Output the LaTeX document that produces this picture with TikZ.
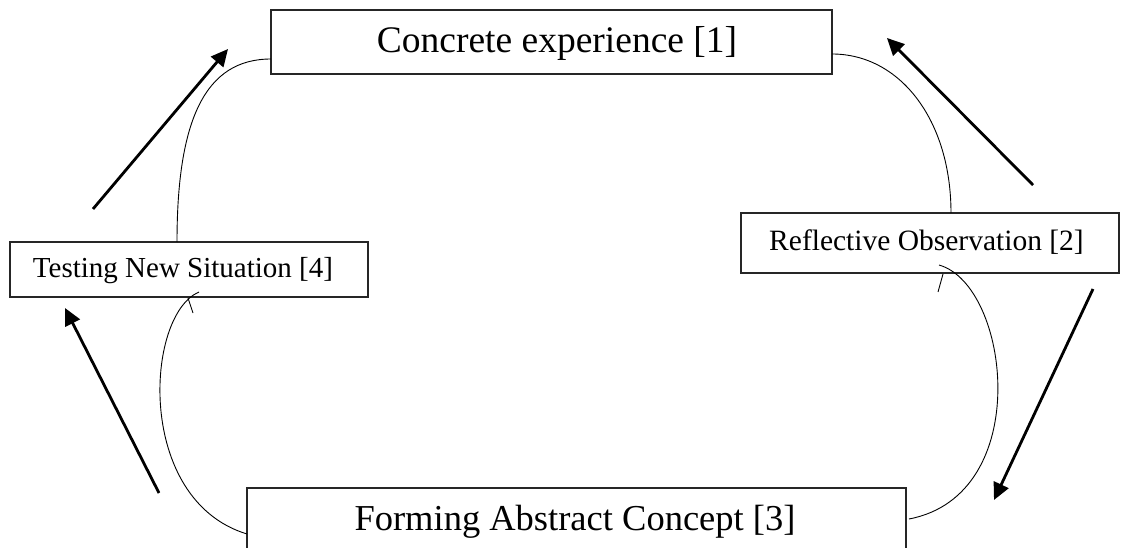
\documentclass[tikz,border=0pt]{standalone}
\usepackage{fontspec}
\setmainfont{Liberation Serif}
\usetikzlibrary{arrows.meta,calc}
\begin{document}
\begin{tikzpicture}[x=1pt,y=-1pt,
  box/.style={draw=black!85,line width=1.2pt,rectangle,inner sep=0pt,outer sep=0pt},
  lbl/.style={anchor=base,inner sep=0pt},
  arc/.style={line width=0.9pt},
  flow/.style={line width=2.8pt,-{Triangle[length=17pt,width=16pt]}}]
\useasboundingbox (0,0) rectangle (1125,548);
% boxes
\node[box,minimum width=561pt,minimum height=64pt] (c1) at (551.5,42) {};
\node[box,minimum width=378pt,minimum height=60pt] (c2) at (930,243) {};
\node[box,minimum width=358pt,minimum height=55pt] (c4) at (189,269.5) {};
\node[box,minimum width=659pt,minimum height=100pt] (c3) at (576.5,538) {};
% texts
\node[lbl,font=\fontsize{37.5}{40}\selectfont] (t1) at (557,53) {Concrete experience [1]};
\node[lbl,font=\fontsize{29.5}{32}\selectfont] (t2) at (926.5,250.5) {Reflective Observation [2]};
\node[lbl,font=\fontsize{29}{32}\selectfont] (t4) at (183,278) {Testing New Situation [4]};
\node[lbl,font=\fontsize{36.5}{40}\selectfont] (t3) at (575,530) {Forming Abstract Concept [3]};
% arc end points
\coordinate (a1s) at ($(c1.south west)+(0,-15)$);
\coordinate (a1e) at ($(c4.north west)+(167,0)$);
\coordinate (a2s) at ($(c1.north east)+(0,44)$);
\coordinate (a2e) at ($(c2.north west)+(210,0)$);
\coordinate (a3s) at ($(c2.south west)+(198,-8)$);
\coordinate (a3e) at ($(c3.north east)+(3,31)$);
\coordinate (a4s) at ($(c4.south west)+(189,-5)$);
\coordinate (a4e) at ($(c3.north west)+(0,46)$);
% arcs
\draw[arc] (a1s) .. controls (205,59) and (177,120) .. (a1e);
\draw[arc] (a2s) .. controls (900,54) and (951,120) .. (a2e);
\draw[arc] (a3s) .. controls (1010,285) and (1035,495) .. (a3e);
\draw[arc] (a4s) .. controls (145,315) and (135,500) .. (a4e);
% ticks
\coordinate (k2a) at ($(c2.south west)+(202,1)$);
\coordinate (k2b) at ($(c2.south west)+(197,19)$);
\coordinate (k4a) at ($(c4.south west)+(178,1)$);
\coordinate (k4b) at ($(c4.south west)+(183,16)$);
\draw[arc] (k2a) -- (k2b);
\draw[arc] (k4a) -- (k4b);
% arrows
\coordinate (f1s) at (93,209);   \coordinate (f1e) at (228,49);
\coordinate (f2s) at (1033,185); \coordinate (f2e) at (887,38);
\coordinate (f3s) at (1093,289); \coordinate (f3e) at (994,500);
\coordinate (f4s) at (159,493);  \coordinate (f4e) at (65,308);
\draw[flow] (f1s) -- (f1e);
\draw[flow] (f2s) -- (f2e);
\draw[flow] (f3s) -- (f3e);
\draw[flow] (f4s) -- (f4e);
\end{tikzpicture}
\end{document}
